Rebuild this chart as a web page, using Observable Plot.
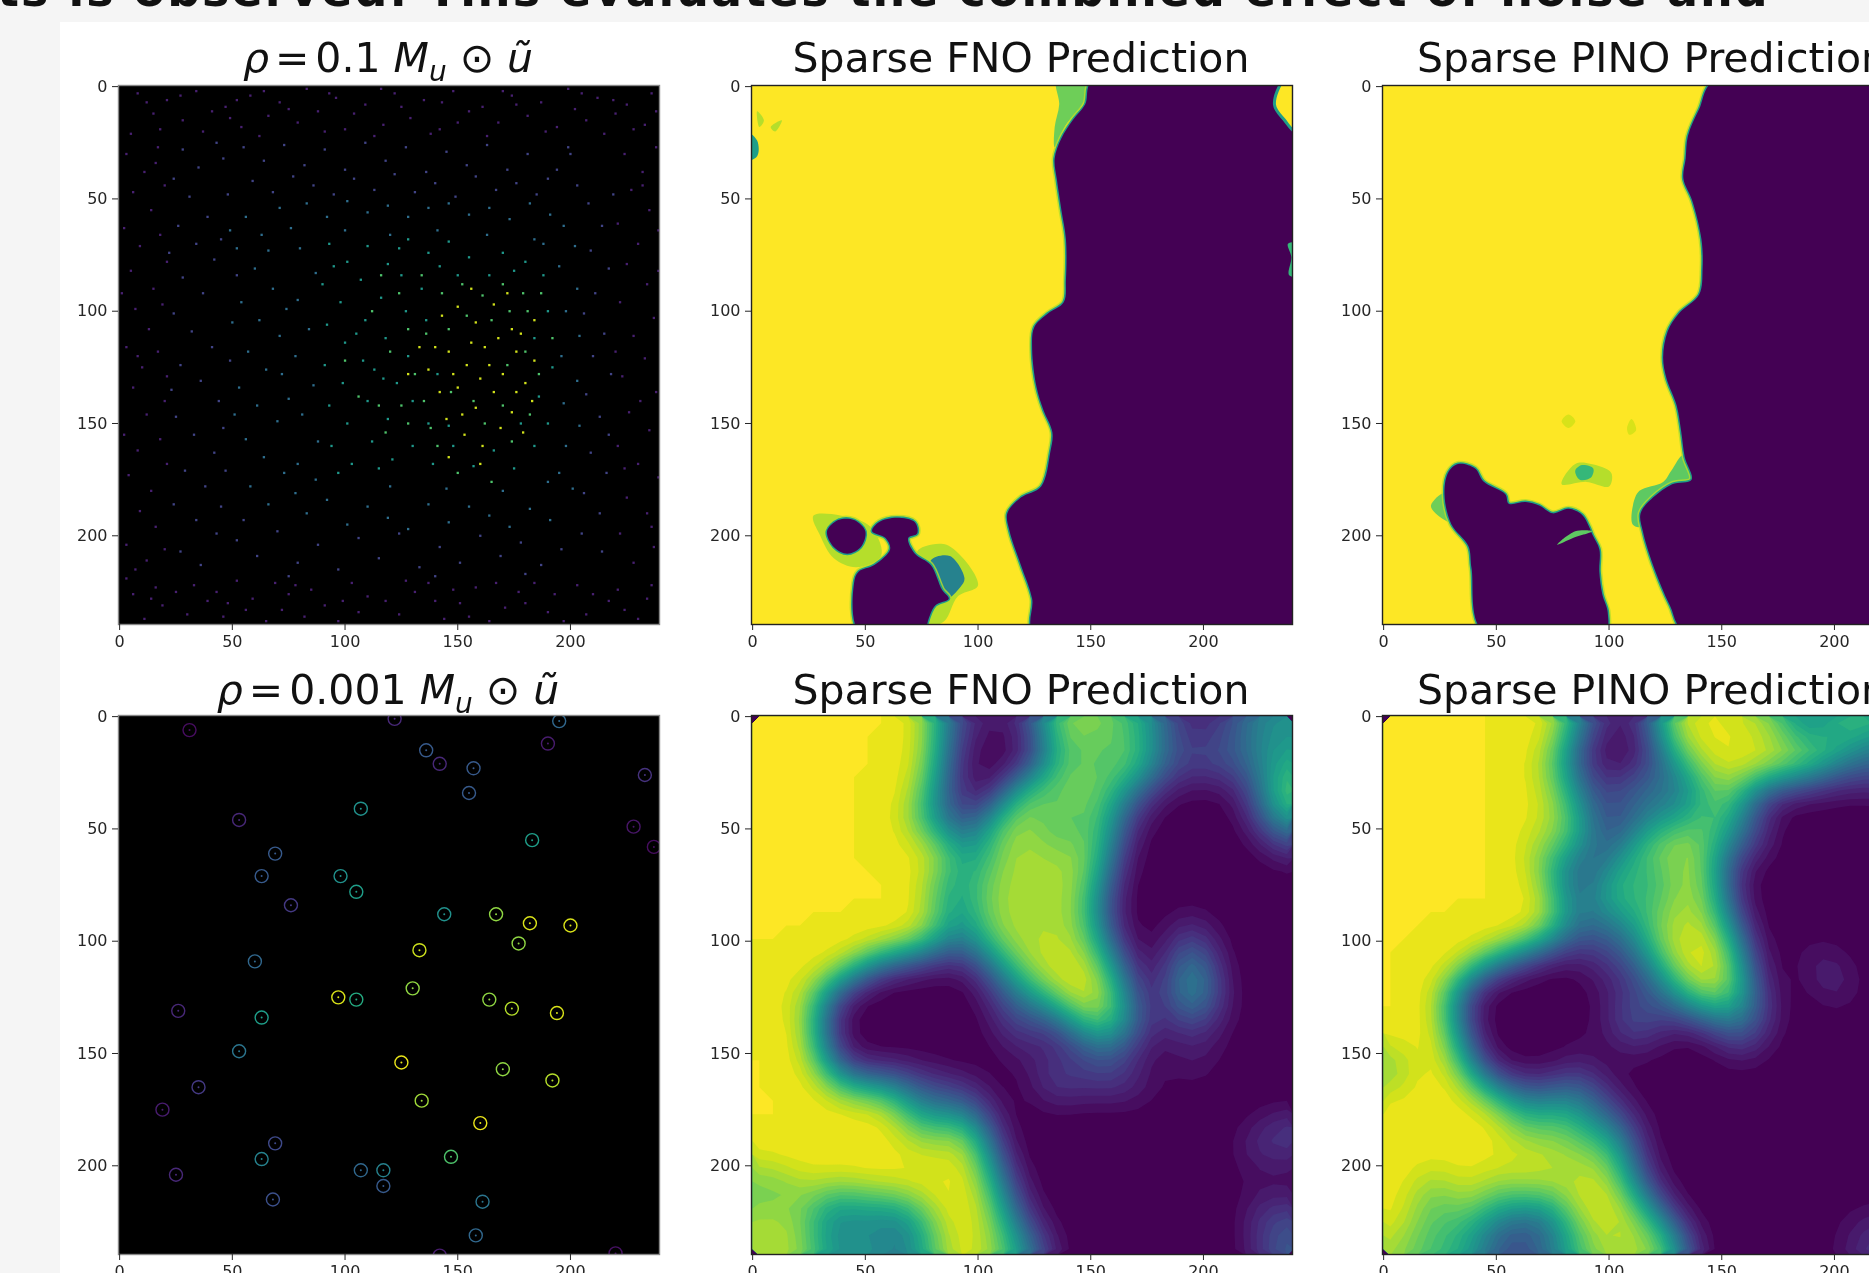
<!DOCTYPE html>
<html><head><meta charset="utf-8">
<script src="https://cdn.jsdelivr.net/npm/d3@7"></script>
<script src="https://cdn.jsdelivr.net/npm/@observablehq/plot@0.6"></script>
<style>
html,body{margin:0;padding:0;background:#f5f5f5;overflow:hidden}
#page{position:relative;width:1869px;height:1273px;overflow:hidden;background:#f5f5f5;font-family:"DejaVu Sans";filter:blur(0.6px)}
#sheet{position:absolute;left:60px;top:22px;width:1809px;height:1251px;background:#fff}
#head{position:absolute;left:-3px;top:-40px;white-space:nowrap;font:bold 46px/60px "DejaVu Sans";letter-spacing:2px;color:#111}
.t{position:absolute;text-align:center;white-space:nowrap;font-size:41px;line-height:50px;color:#111}
.t sub{font-size:28px;line-height:0}
.p{position:absolute}
</style></head><body><div id="page"><div id="sheet"></div><div id="head"></div></div>
<script>
const headline = "ts is observed. This evaluates the combined effect of noise and";
const tickValues = [0,50,100,150,200];
const titleFno = "Sparse FNO Prediction", titlePino = "Sparse PINO Prediction";

// Coarse reading of the two lower prediction fields: one digit per 6x6 data cell, 0 = purple, 9 = yellow
const fnoLow = [
"9999999999 9996321111 2588887665 3101123454","9999999999 9997310000 1488778765 3111223564",
"9999999999 9997210000 0378657875 3223333565","9999999999 9996210000 0168657875 3222332465",
"9999999999 9985200003 5788888764 2111112367","9999999999 9985310017 8778777421 0000001369",
"9999999999 9974210048 8767876321 0000001368","9999999999 9854212688 8766786210 0000000256",
"9999999999 9966423788 8766785100 0000000134","9999999999 9999843788 8877884100 0000000012",
"9999999999 9999853788 8888883000 0000000001","9999999999 9998564888 8888872000 0000000000",
"9999999999 9997457888 8888861000 0000000000","9999999999 9997447888 8888851000 0000000000",
"9999999999 9998536888 8888840000 0000000000","9999999999 9998536888 8888851000 0130000000",
"9999999999 9997435888 8888872000 0131000000","9999999999 8643223578 9988883100 0352000000",
"9999999841 0000001357 8999986210 0373000000","9999986300 0000000235 7899997310 1384000000",
"9989830000 0000000134 5789998410 1484100000","9989820000 0000000023 3368998610 1353100000",
"9999810000 0000000013 1235788621 1232100000","9999810000 0000000013 2012567521 0111000000",
"9999820000 0000000002 1001233210 0011000000","9999941000 0000000000 0121122100 0121000000",
"9999973212 2110000000 0232133210 0010000000","9999997656 5333221000 0232122221 0000000000",
"9999999999 7433332100 0010000000 0000000000","9999999999 9743443100 0000000000 0000000000",
"9999999999 9867886200 0000000000 0000000123","9999999999 9888998300 0000000000 0000001222",
"9999999999 9998899410 0000000000 0000001211","8999999999 9989989620 0000000000 0000000100",
"7679999999 9999999731 0000000000 0000000000","7667865788 8999999841 0000000000 0000000110",
"8888744454 4578999862 1000000000 0000000221","8898634443 3458999873 1000000000 0000000232",
"8888743664 3358999875 3100000000 0000000233","8888853564 4457899876 5200000000 0000000123"];
const pinoLow = [
"9999999999 9998422111 7999988876 3136777777","9999999999 9997310000 5889999988 7677654444",
"9999999999 9985100001 4789999999 8887543333","9999999999 9874100001 2578999999 8864333333",
"9999999999 9886321122 3347898876 5432223333","9999999999 9987421354 4336886200 0000000000",
"9999999999 9987421333 6436875210 0000000000","9999999999 9987631222 4357864200 0000000000",
"9999999999 9888831236 7888754300 0000000000","9999999999 9787631478 8888643300 0000000000",
"9999999999 9764322577 8888521000 0000000000","9999999999 9853224763 7888710000 0000000000",
"9999999999 9973236973 6888810000 0000000000","9999999999 9984246866 7888820000 0000000000",
"9999999999 9984255557 8888830000 0000000000","9999999999 9986234347 8888861000 0000000000",
"9999999999 9864123346 8999982000 0000000000","9999999987 4100112235 8999993000 0110000000",
"9999998520 0000011223 6899995100 0121000000","9999973000 0000011122 4789996100 0013000000",
"9999830000 0000000112 2578887200 0003000000","9999820000 0000000232 2356776310 0000000000",
"9999930000 0000000343 1112344310 0000000000","9999951000 0000100232 0000034200 0000000000",
"9999961000 0000100011 0000013100 0000000000","6899983000 0000100000 0000000000 0000000000",
"6899996210 0001210000 0000000000 0000000000","8999998532 2223421000 0000000000 0000000000",
"9999999976 4446532100 0000000000 0000000000","9999999997 5577433210 0000000000 0000000000",
"9999999998 6688546310 0000000000 0000000000","9999999998 8888767520 0000000000 0000000000",
"9999999999 9988888620 0000000000 0000000000","9998999999 9888888731 0000000000 0000000000",
"9997899868 9988898841 0000000000 0000000000","9986699867 8789999863 1000000000 0000000000",
"9985688666 5347999986 2000000000 0000000000","9987776432 2236899988 5200000000 0000111111",
"9876665422 2335788888 8510000000 0000112222","8767665422 2345688888 8720000000 0000112222"];

// Outlines read from the two upper prediction fields, [x, y] in data units
const fnoMain = [[151,-3],[147.5,8],[142,15],[137,23],[134,32],[135,41.5],[137,55],[139,68],[139,86],[138,96],[131,101],[125,107],[124,117],[126,134],[129,144],[133,154],[132,163],[128,178],[119,183],[113,190],[114,198],[119,213],[124,228],[125,243],[280,243],[280,-3]];
const fnoFan = [[135,-3],[150,-3],[146,8.5],[139,17],[134,27],[134,18],[136,8]];
const fnoCorner = [[236,-3],[231.5,8],[236,15],[241,20],[243,-3]];
const fnoEdgeA = [[-3,20],[2,24],[2,31],[-3,33]];
const fnoEdgeB = [[237.5,70],[239,76],[238,84],[243,84],[243,70]];
const fnoSmearA = [[2,11],[5,15],[3,18]];
const fnoSmearB = [[8,18],[13,15],[10,20]];
const fnoOvalFringe = [[27,191],[47,193],[54,198],[57,209],[46,214],[36,210],[30,200]];
const fnoOval = [[33,198],[38,193],[45,193],[50,198],[48,205],[42,208],[36,205]];
const fnoNeck = [[53,198],[56,194],[64,192],[72,194],[73,199],[69,201],[72,208],[79,213],[84,224],[87,228],[81,231],[77.5,239],[77,243],[47.5,243],[45,221],[47,216],[54,213],[61,206],[59,201]];
const fnoLobeFringe = [[73,207],[86,204],[100,222],[91,227],[85,238],[78,240],[78,228],[82,218]];
const fnoLobe = [[79,211],[87.5,209],[94,219],[92,223],[86,228],[83,222]];
const pinoMain = [[147,-3],[140,10],[135,22],[134,32],[133,41],[137,51],[141,68],[141.5,81],[140,92.6],[131,101],[126,109],[124,120.6],[125.5,130],[130,142],[132,153.5],[133.6,165],[136.6,175],[128,177],[119.5,183],[114,190],[115,198],[119.5,213],[127,231],[134,243],[280,243],[280,-3]];
const pinoFringe = [[133,164],[137.5,175],[133,178],[118,185],[114,196],[110.5,195],[110.6,186.5],[113.5,180],[124,176],[127.6,171]];
const pinoPatch = [[79,177],[85,168],[92,168],[101,172],[100,178],[90,176]];
const pinoPatchCore = [[85,171],[88,168.5],[93,170],[92,174],[87,175]];
const pinoFaintA = [[79,149],[82,146],[85,149],[82,152]];
const pinoFaintB = [[108,152],[110,148],[112,153],[109,155]];
const pinoBlob = [[28.7,171.7],[33,168],[40.6,170],[44.3,175.8],[54,181.5],[55.5,185.7],[63,185],[69,186.5],[75,190],[82,188],[88,190.6],[91,195.6],[92.7,199.7],[95.7,206],[95.7,216],[97,226],[99.4,234],[98,243],[44.3,243],[39,214.5],[37.6,204.6],[30,194.7],[27,181.5]];
const pinoTip = [[27,181],[21,186.5],[23,190],[30,194]];
const pinoWedge = [[77,204],[85,198],[92.6,198],[84,201]];

// Observed samples in the two left panels
const circleX = [122,195,31,190,136,142,157,233,155,107,53,228,183,237,69,63,98,105,76,144,167,182,200,177,133,60,130,97,105,164,174,26,194,63,53,125,170,192,35,134,19,160,69,147,63,107,117,117,25,68,161,158,142,220];
const circleY = [1,2,6,12,15,21,23,26,34,41,46,49,55,58,61,71,71,78,84,88,88,92,93,101,104,109,121,125,126,126,130,131,132,134,149,154,157,162,165,171,175,181,190,196,197,202,202,209,204,215,216,231,240,239];
const circleV = [1,3,.3,.7,2.5,1,2.5,1.3,2.5,4.5,1,.5,5,.3,2.5,2.5,4.5,5,1.5,4.5,7.5,8.5,8.5,7.5,8.3,3,7.5,8.5,5.5,7.5,8,1,8.5,5,3.5,8.7,7.5,8,1.5,7.7,.7,8.7,2,6.5,4,3,4,2.5,1,2.2,3.5,3,.7,.4];

const sparseOuter = "8,3 21,6 34,2 47,9 58,4 71,7 83,1 96,5 109,8 122,3 135,6 148,2 161,9 174,4 187,7 199,1 212,5 225,8 236,3 15,12 28,15 41,11 54,18 66,13 79,16 91,20 104,12 117,17 129,14 142,19 155,11 168,16 181,13 194,18 207,15 220,12 233,17 5,21 18,19 37,20 49,14 62,22 75,10 88,11 100,19 113,22 125,9 138,21 150,16 163,22 176,8 189,20 202,10 215,21 228,19 238,11 12,7 27,4 52,6 64,2 93,3 116,1 143,7 170,2 205,3 219,6 "
+"6,226 19,231 33,222 46,236 59,228 72,233 85,224 97,238 110,227 124,235 137,221 151,230 164,238 177,225 190,234 203,222 217,229 230,237 11,237 25,225 39,229 52,220 65,238 78,222 91,231 103,221 118,229 131,225 144,237 158,223 171,232 184,221 197,238 210,226 224,233 236,222 3,219 16,223 30,235 43,225 56,233 69,221 82,236 106,234 127,220 140,229 155,236 167,221 180,230 193,226 207,235 221,224 234,228 14,228 48,230 75,226 99,229 148,224 "
+"3,30 11,38 17,27 6,47 14,55 20,44 2,63 9,71 18,66 5,82 15,90 21,78 7,99 13,108 19,97 3,116 10,125 17,118 6,134 20,140 12,146 2,155 8,162 18,157 4,173 14,180 21,168 9,189 16,196 3,204 12,211 20,206 7,215 1,92 16,34 8,120 21,129 "
+"224,30 232,38 238,27 227,46 235,55 221,61 230,70 239,64 225,79 234,88 222,96 237,103 228,111 233,121 223,129 238,136 226,145 235,153 221,160 230,168 239,174 225,183 234,190 222,199 237,205 228,212 232,44 239,82 220,118 231,140 224,170 236,196";
const sparseBlue = "28,28 35,36 43,25 24,41 31,49 39,58 46,32 26,62 34,70 42,77 28,85 37,92 45,68 24,101 32,109 41,116 27,124 36,131 44,140 25,147 33,155 42,163 29,171 38,178 46,152 24,186 34,193 43,199 27,207 36,213 45,187 55,27 64,33 73,26 82,35 91,28 100,37 109,25 118,33 127,27 136,38 145,29 154,35 163,26 172,37 181,30 190,41 199,27 59,42 68,47 77,40 86,44 95,48 104,41 113,46 122,39 131,47 140,43 149,49 158,40 167,46 176,43 185,48 194,37 203,44 52,202 61,209 70,198 79,212 88,204 97,215 106,201 115,210 124,199 133,214 142,205 151,212 160,200 169,209 178,203 187,213 196,206 205,199 214,207 208,52 214,62 209,73 217,81 211,92 206,101 215,110 210,120 218,128 207,137 213,147 217,155 209,163 216,172 206,181 213,190 48,48 52,84 49,122 47,171 55,193 22,74 23,135 219,48 200,30 75,218 140,218 180,217";
const sparseTeal = "56,58 63,66 71,54 52,72 60,81 68,90 76,63 54,96 62,104 71,111 57,118 65,126 74,99 53,134 61,142 70,149 56,157 64,165 73,172 58,178 66,186 75,139 83,52 92,58 101,51 110,56 119,53 128,58 137,54 146,52 155,57 164,54 173,59 182,52 191,57 83,190 92,184 101,195 110,187 119,192 128,197 137,186 146,194 155,187 164,191 173,196 182,188 191,193 197,62 202,71 195,80 203,90 198,100 204,111 196,120 203,131 197,141 204,151 198,160 195,172 201,179 80,72 87,83 79,95 84,108 78,120 86,133 81,146 88,158 79,168 87,175 49,64 50,105 51,146 78,181 100,64 120,66 141,64 163,66 184,68 120,178 145,179 170,180 66,73 72,128 190,176 188,70";
const sparseGreen = "93,70 101,78 110,71 119,79 128,68 137,74 146,69 155,76 90,88 98,96 107,86 116,94 125,84 134,90 92,106 100,114 109,104 118,112 91,124 99,132 108,122 117,130 93,142 101,150 110,140 119,148 94,160 103,168 112,158 121,166 130,160 139,168 148,160 157,169 166,162 175,170 184,160 127,100 128,120 130,140 137,150 146,151 170,74 180,78 188,84 190,100 184,112 192,125 186,138 190,150 175,82 164,84 178,150 95,80 105,110 113,126 115,170 97,172 124,72 142,80 150,84 136,104 141,128 123,132";
const sparseLime = "134,84 143,92 152,88 161,93 170,88 179,92 136,110 128,108 131,128 135,140 128,150 141,160 150,172 165,176 174,158 182,146 186,128 181,100 173,100 112,100 120,118 106,138 118,154 146,108 147,136 124,92 116,84 162,150 170,142 157,140 172,124 180,118 154,102 138,152 125,142 115,142 100,122 165,104 187,92 192,112";
const sparseYellow = "150,98 158,105 166,97 174,108 146,118 154,124 162,116 170,128 178,110 150,134 158,143 166,136 174,145 180,132 145,148 153,155 161,160 169,152 143,102 140,116 142,136 176,118 184,104 184,122 176,136 156,114 164,124 148,128 160,130 152,146 168,112 156,90 172,92 137,126 133,116 160,168 179,154 128,128 146,165 183,140";
const sparseSets = [[sparseOuter,.8],[sparseBlue,1.8],[sparseTeal,3.2],[sparseGreen,4.8],[sparseLime,6.5],[sparseYellow,8.4]];

const fieldThresholds = [.3,.6,.9,1.2,1.5,1.8,2.1,2.4,2.7,3,3.3,3.6,3.9,4.2,4.5,4.8,5.1,5.4,5.7,6,6.3,6.6,6.9,7.2,7.5,7.8,8.1,8.4,8.7,9];
const PURPLE="#440154", YELLOW="#fde725";
const colorScale = {type:"linear",scheme:"viridis",domain:[0,9]};

const digits = rows => rows.join("").replace(/ /g,"").split("").map(Number);
const blob = (pts,fill,stroke="none",sw=0,op=1) => Plot.line(pts,{x:d=>d[0],y:d=>d[1],curve:"catmull-rom-closed",fill,stroke,strokeWidth:sw,fillOpacity:op,strokeOpacity:op,clip:true});
const ring = (pts) => [blob(pts,PURPLE,"#b5de2b",6,.8),blob(pts,PURPLE,"#1f9e89",3),blob(pts,PURPLE)];

const page = document.getElementById("page");
document.getElementById("head").textContent = headline;

function panel(left,top,marks,frameStroke){
  const ml=46,mr=5,mt=6,mb=34;
  const svg = Plot.plot({
    width:541+ml+mr,height:539+mt+mb,marginLeft:ml,marginRight:mr,marginTop:mt,marginBottom:mb,
    x:{domain:[-0.5,239.5],axis:null},y:{domain:[239.5,-0.5],axis:null},color:colorScale,
    style:{fontFamily:"DejaVu Sans",fontSize:"16px",color:"#262626",background:"transparent",overflow:"visible"},
    marks:[...marks,
      Plot.frame({stroke:frameStroke,strokeWidth:1.4}),
      Plot.axisX(tickValues,{anchor:"bottom",label:null,tickSize:6,tickPadding:5,fontSize:16}),
      Plot.axisY(tickValues,{anchor:"left",label:null,tickSize:6,tickPadding:5,fontSize:16})]
  });
  svg.classList.add("p");svg.style.left=(left-ml)+"px";svg.style.top=(top-mt)+"px";
  page.appendChild(svg);
}
function title(html,cx,y){
  const d=document.createElement("div");d.className="t";d.innerHTML=html;
  d.style.left=(cx-400)+"px";d.style.width="800px";d.style.top=y+"px";page.appendChild(d);
}
const sparseRows = sparseSets.flatMap(([s,v])=>s.split(" ").map(p=>{const [x,y]=p.split(",").map(Number);return {x,y,v};}));
const circles = circleX.map((x,i)=>({x,y:circleY[i],v:circleV[i]}));
const xs=[118,751,1381.5], ys=[84.6,715];
const contourField = rows => Plot.contour(digits(rows),{width:40,height:40,x1:0,x2:240,y1:0,y2:240,fill:Plot.identity,thresholds:fieldThresholds,blur:0.7,clip:true});

panel(xs[0],ys[0],[Plot.frame({fill:"#000"}),Plot.dot(sparseRows,{x:"x",y:"y",fill:"v",r:1.3,symbol:"square",clip:true})],"#888");
panel(xs[1],ys[0],[Plot.frame({fill:YELLOW}),
  blob(fnoFan,"#6ece58"),blob(fnoSmearA,"#b5de2b"),blob(fnoSmearB,"#b5de2b"),blob(fnoEdgeA,"#1f9e89"),
  ...ring(fnoMain),blob(fnoEdgeB,"#35b779"),blob(fnoCorner,YELLOW,"#1f9e89",3),
  blob(fnoOvalFringe,"#b5de2b"),blob(fnoLobeFringe,"#b5de2b"),blob(fnoLobe,"#26828e"),
  ...ring(fnoNeck),...ring(fnoOval)],"#222");
panel(xs[2],ys[0],[Plot.frame({fill:YELLOW}),
  blob(pinoFaintA,"#d8e219"),blob(pinoFaintB,"#d8e219"),blob(pinoPatch,"#b5de2b"),blob(pinoPatchCore,"#35b779"),
  blob(pinoFringe,"#5ec962"),blob(pinoTip,"#6ece58"),...ring(pinoMain),...ring(pinoBlob),blob(pinoWedge,"#5ec962")],"#222");
panel(xs[0],ys[1],[Plot.frame({fill:"#000"}),
  Plot.dot(circles,{x:"x",y:"y",stroke:"v",r:6.5,strokeWidth:1.4,clip:true}),
  Plot.dot(circles,{x:"x",y:"y",fill:"v",r:1,clip:true})],"#888");
panel(xs[1],ys[1],[Plot.frame({fill:PURPLE}),contourField(fnoLow)],"#222");
panel(xs[2],ys[1],[Plot.frame({fill:PURPLE}),contourField(pinoLow)],"#222");

const math = (n)=>`<i>ρ</i><span style="margin:0 6px">=</span>${n} <i>M<sub>u</sub></i> ⊙ <i>ũ</i>`;
title(math("0.1"),388,33);title(titleFno,1021,33);title(titlePino,1652,33);
title(math("0.001"),388,665);title(titleFno,1021,665);title(titlePino,1652,665);
</script></body></html>
